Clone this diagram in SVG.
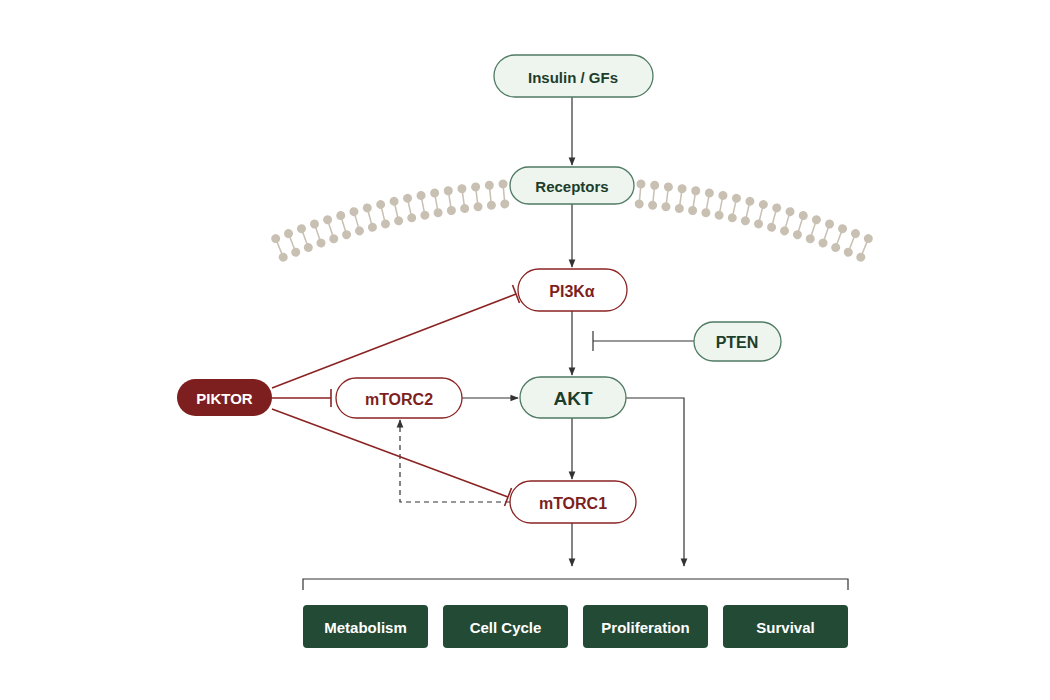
<svg xmlns="http://www.w3.org/2000/svg" xmlns:xlink="http://www.w3.org/1999/xlink" width="1050" height="700" viewBox="0 0 1050 700">
<style>
text{font-family:"Liberation Sans",Arial,sans-serif;font-weight:bold;text-anchor:middle;dominant-baseline:central}
.g{fill:#eef5ee;stroke:#4f7a63;stroke-width:1.3}
.gt{fill:#1d3d2b;font-size:15px}
.r{fill:#fff;stroke:#8b2323;stroke-width:1.3}
.rt{fill:#7d1f1f;font-size:16px}
.out{fill:#234a35}
.ot{fill:#fff;font-size:15px}
.k{stroke:#333;stroke-width:1.2;fill:none}
.rl{stroke:#8b2323;stroke-width:1.6;fill:none}
</style>
<defs>
<marker id="a" viewBox="0 0 10 10" refX="9" refY="5" markerWidth="7" markerHeight="7" orient="auto"><path d="M0,1 L10,5 L0,9 z" fill="#333"/></marker>
<g id="lip" fill="#c8c0b2" stroke="#c8c0b2"><circle cx="572" cy="181" r="4.5" stroke="none"/><circle cx="572" cy="201" r="4.5" stroke="none"/><line x1="572" y1="181" x2="572" y2="201" stroke-width="1.5"/></g>
</defs>
<rect width="1050" height="700" fill="#fff"/>
<g id="membrane">
<use xlink:href="#lip" transform="rotate(-22 572 972)"/><use xlink:href="#lip" transform="rotate(-21 572 972)"/><use xlink:href="#lip" transform="rotate(-20 572 972)"/><use xlink:href="#lip" transform="rotate(-19 572 972)"/><use xlink:href="#lip" transform="rotate(-18 572 972)"/><use xlink:href="#lip" transform="rotate(-17 572 972)"/><use xlink:href="#lip" transform="rotate(-16 572 972)"/><use xlink:href="#lip" transform="rotate(-15 572 972)"/><use xlink:href="#lip" transform="rotate(-14 572 972)"/><use xlink:href="#lip" transform="rotate(-13 572 972)"/><use xlink:href="#lip" transform="rotate(-12 572 972)"/><use xlink:href="#lip" transform="rotate(-11 572 972)"/><use xlink:href="#lip" transform="rotate(-10 572 972)"/><use xlink:href="#lip" transform="rotate(-9 572 972)"/><use xlink:href="#lip" transform="rotate(-8 572 972)"/><use xlink:href="#lip" transform="rotate(-7 572 972)"/><use xlink:href="#lip" transform="rotate(-6 572 972)"/><use xlink:href="#lip" transform="rotate(-5 572 972)"/><use xlink:href="#lip" transform="rotate(5 572 972)"/><use xlink:href="#lip" transform="rotate(6 572 972)"/><use xlink:href="#lip" transform="rotate(7 572 972)"/><use xlink:href="#lip" transform="rotate(8 572 972)"/><use xlink:href="#lip" transform="rotate(9 572 972)"/><use xlink:href="#lip" transform="rotate(10 572 972)"/><use xlink:href="#lip" transform="rotate(11 572 972)"/><use xlink:href="#lip" transform="rotate(12 572 972)"/><use xlink:href="#lip" transform="rotate(13 572 972)"/><use xlink:href="#lip" transform="rotate(14 572 972)"/><use xlink:href="#lip" transform="rotate(15 572 972)"/><use xlink:href="#lip" transform="rotate(16 572 972)"/><use xlink:href="#lip" transform="rotate(17 572 972)"/><use xlink:href="#lip" transform="rotate(18 572 972)"/><use xlink:href="#lip" transform="rotate(19 572 972)"/><use xlink:href="#lip" transform="rotate(20 572 972)"/><use xlink:href="#lip" transform="rotate(21 572 972)"/><use xlink:href="#lip" transform="rotate(22 572 972)"/>
</g>
<g id="connectors">
<line class="k" x1="572" y1="97" x2="572" y2="165" marker-end="url(#a)"/>
<line class="k" x1="572" y1="204" x2="572" y2="267" marker-end="url(#a)"/>
<line class="k" x1="572" y1="311" x2="572" y2="375" marker-end="url(#a)"/>
<line class="k" x1="694" y1="341" x2="593" y2="341"/><line class="k" x1="593" y1="331" x2="593" y2="351" stroke-width="1.8"/>
<line class="k" x1="462" y1="398" x2="518" y2="398" marker-end="url(#a)"/>
<line class="k" x1="572" y1="418" x2="572" y2="479" marker-end="url(#a)"/>
<polyline class="k" points="626,398 684,398 684,566" marker-end="url(#a)"/>
<line class="k" x1="572" y1="523" x2="572" y2="566" marker-end="url(#a)"/>
<polyline class="k" points="510,502 400,502 400,420" stroke-dasharray="5,4" marker-end="url(#a)"/>
<line class="rl" x1="272" y1="388" x2="516" y2="294"/><line class="rl" x1="512.5" y1="285" x2="519.5" y2="303"/>
<line class="rl" x1="272" y1="398" x2="331" y2="398"/><line class="rl" x1="331" y1="389" x2="331" y2="407"/>
<line class="rl" x1="272" y1="409" x2="508" y2="497"/><line class="rl" x1="511.5" y1="488" x2="504.5" y2="506"/>
<polyline class="k" points="303,590 303,579 848,579 848,590"/>
</g>
<g id="insulin"><rect class="g" x="494" y="55" width="159" height="42" rx="21"/><text class="gt" x="573" y="77">Insulin / GFs</text></g>
<g id="receptors"><rect class="g" x="510" y="167" width="124" height="37" rx="18.5"/><text class="gt" x="572" y="186">Receptors</text></g>
<g id="pi3k"><rect class="r" x="518" y="269" width="109" height="42" rx="21"/><text class="rt" x="572" y="291">PI3Kα</text></g>
<g id="pten"><rect class="g" x="694" y="322" width="87" height="39" rx="19.5"/><text class="gt" x="737" y="342" style="font-size:16px">PTEN</text></g>
<g id="akt"><rect class="g" x="520" y="377" width="106" height="41" rx="20.5"/><text class="gt" x="573" y="398" style="font-size:19px">AKT</text></g>
<g id="mtorc2"><rect class="r" x="336" y="378" width="126" height="40" rx="20"/><text class="rt" x="399" y="399">mTORC2</text></g>
<g id="piktor"><rect x="177" y="379" width="95" height="37" rx="18.5" fill="#7d1f1f"/><text x="224.5" y="398" fill="#fff" style="font-size:15px">PIKTOR</text></g>
<g id="mtorc1"><rect class="r" x="510" y="481" width="126" height="42" rx="21"/><text class="rt" x="573" y="503">mTORC1</text></g>
<g id="metabolism"><rect class="out" x="303" y="605" width="125" height="43" rx="4"/><text class="ot" x="365.5" y="627">Metabolism</text></g>
<g id="cellcycle"><rect class="out" x="443" y="605" width="125" height="43" rx="4"/><text class="ot" x="505.5" y="627">Cell Cycle</text></g>
<g id="proliferation"><rect class="out" x="583" y="605" width="125" height="43" rx="4"/><text class="ot" x="645.5" y="627">Proliferation</text></g>
<g id="survival"><rect class="out" x="723" y="605" width="125" height="43" rx="4"/><text class="ot" x="785.5" y="627">Survival</text></g>
</svg>
